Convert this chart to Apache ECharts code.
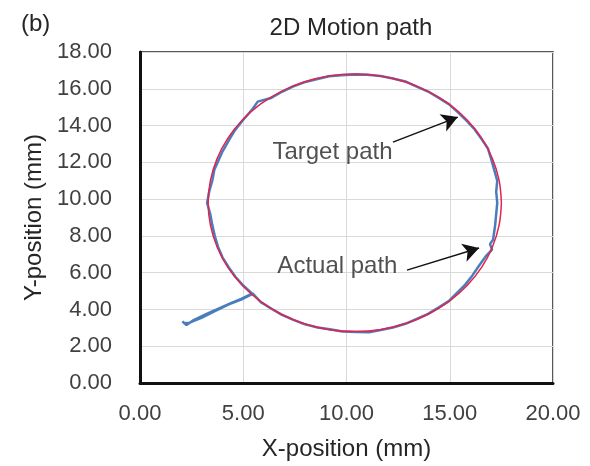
<!DOCTYPE html>
<html>
<head>
<meta charset="utf-8">
<script src="https://cdn.jsdelivr.net/npm/echarts@6/dist/echarts.min.js"></script>
<style>
  html, body { margin: 0; padding: 0; background: #fff; }
  #chart { width: 590px; height: 466px; }
</style>
</head>
<body>
<div id="chart"></div>
<script>
// Commanded circular trajectory, [x, y] in mm
const targetPath = [
  [17.50, 9.80], [17.39, 11.02], [17.07, 12.19], [16.55, 13.30], [15.84, 14.30],
  [14.97, 15.16], [13.95, 15.86], [12.83, 16.38], [11.64, 16.70], [10.40, 16.80],
  [9.16, 16.70], [7.97, 16.38], [6.85, 15.86], [5.83, 15.16], [4.96, 14.30],
  [4.25, 13.30], [3.73, 12.19], [3.41, 11.02], [3.30, 9.80], [3.41, 8.58],
  [3.73, 7.41], [4.25, 6.30], [4.96, 5.30], [5.83, 4.44], [6.85, 3.74],
  [7.97, 3.22], [9.16, 2.90], [10.40, 2.80], [11.64, 2.90], [12.83, 3.22],
  [13.95, 3.74], [14.97, 4.44], [15.84, 5.30], [16.55, 6.30], [17.07, 7.41],
  [17.39, 8.58], [17.50, 9.80]
];

// Measured tool position, [x, y] in mm
const actualPath = [
  [2.05, 3.35], [2.25, 3.15], [2.60, 3.42], [3.20, 3.74], [3.80, 4.04],
  [4.40, 4.34], [4.90, 4.58], [5.45, 4.88],
  [5.85, 4.40], [6.35, 4.05], [6.85, 3.72], [7.40, 3.45], [7.95, 3.20],
  [8.60, 3.02], [9.20, 2.92], [9.80, 2.80], [10.50, 2.78], [11.10, 2.76],
  [11.65, 2.88], [12.25, 3.02], [12.85, 3.22], [13.40, 3.48], [13.95, 3.76],
  [14.45, 4.10], [14.95, 4.45], [15.35, 4.90], [15.75, 5.35], [16.10, 5.85],
  [16.40, 6.35], [16.75, 6.90], [17.05, 7.25], [16.95, 7.55], [17.10, 7.80],
  [17.15, 8.20], [17.20, 8.60], [17.25, 9.20], [17.30, 9.80], [17.25, 10.40],
  [17.30, 11.00], [17.15, 11.60], [17.00, 12.20], [16.85, 12.75], [16.55, 13.25],
  [16.20, 13.80], [15.80, 14.28], [15.40, 14.72], [14.97, 15.15], [14.45, 15.52],
  [13.95, 15.85], [13.40, 16.12], [12.85, 16.40], [12.25, 16.56], [11.65, 16.70],
  [11.00, 16.76], [10.40, 16.78], [9.75, 16.74], [9.15, 16.68], [8.55, 16.52],
  [7.95, 16.35], [7.40, 16.12], [6.90, 15.85], [6.35, 15.50], [5.70, 15.30],
  [5.45, 14.90], [4.95, 14.25], [4.60, 13.75], [4.30, 13.20], [4.00, 12.60],
  [3.80, 12.10], [3.60, 11.60], [3.50, 11.00], [3.35, 10.40], [3.25, 9.80],
  [3.40, 9.20], [3.50, 8.60], [3.62, 8.00], [3.78, 7.40], [4.00, 6.82],
  [4.30, 6.28], [4.62, 5.78], [5.00, 5.30], [5.45, 4.85],
  [4.90, 4.54], [4.30, 4.28], [3.60, 3.90], [3.00, 3.56], [2.40, 3.28], [2.10, 3.25]
];

// Callout labels and the arrows pointing at each path
const calloutLabels = [
  { name: 'Target path', value: [9.32, 12.56] },
  { name: 'Actual path', value: [9.56, 6.36] }
];
const calloutArrows = [
  [[12.25, 13.10], [15.39, 14.46]],
  [[12.93, 6.14], [16.42, 7.34]]
];

const xTicks = { min: 0, max: 20, interval: 5 };
const yTicks = { min: 0, max: 18, interval: 2 };

const FONT = '"Liberation Sans", Arial, sans-serif';
const TEXT = '#262626';

const chart = echarts.init(document.getElementById('chart'), null, { renderer: 'canvas' });

chart.setOption({
  animation: false,
  backgroundColor: '#ffffff',
  textStyle: { fontFamily: FONT },
  title: [
    {
      text: '2D Motion path',
      left: 346, top: 11, textAlign: 'center',
      textStyle: { fontFamily: FONT, fontSize: 24, fontWeight: 'normal', color: TEXT }
    },
    {
      text: '(b)',
      left: 16, top: 7,
      textStyle: { fontFamily: FONT, fontSize: 24, fontWeight: 'normal', color: TEXT }
    }
  ],
  grid: {
    left: 140, right: 37, top: 52, bottom: 83,
    show: true, borderColor: '#222', borderWidth: 1.5, backgroundColor: '#fff'
  },
  xAxis: {
    type: 'value',
    min: xTicks.min, max: xTicks.max, interval: xTicks.interval,
    name: 'X-position (mm)', nameLocation: 'middle', nameGap: 54,
    nameTextStyle: { fontFamily: FONT, fontSize: 24, color: TEXT },
    axisLine: { show: true, onZero: false, lineStyle: { color: '#111', width: 3 } },
    axisTick: { show: false },
    axisLabel: {
      fontFamily: FONT, fontSize: 22, color: '#404040', margin: 20,
      formatter: v => v.toFixed(2)
    },
    splitLine: { show: true, lineStyle: { color: '#d9d9d9', width: 1 } }
  },
  yAxis: {
    type: 'value',
    min: yTicks.min, max: yTicks.max, interval: yTicks.interval,
    name: 'Y-position (mm)', nameLocation: 'middle', nameGap: 88,
    nameTextStyle: { fontFamily: FONT, fontSize: 24, color: TEXT },
    axisLine: { show: true, onZero: false, lineStyle: { color: '#111', width: 3 } },
    axisTick: { show: false },
    axisLabel: {
      fontFamily: FONT, fontSize: 22, color: '#404040', margin: 28,
      formatter: v => v.toFixed(2)
    },
    splitLine: { show: true, lineStyle: { color: '#d9d9d9', width: 1 } }
  },
  series: [
    {
      name: 'Actual path',
      type: 'line',
      data: actualPath,
      showSymbol: false,
      symbol: 'none',
      lineStyle: { color: '#4a7ebb', width: 2.5 },
      z: 2
    },
    {
      name: 'Target path',
      type: 'line',
      data: targetPath,
      smooth: 0.4,
      showSymbol: false,
      symbol: 'none',
      lineStyle: { color: '#e0234f', width: 1.5 },
      z: 3
    },
    {
      name: 'Callouts',
      type: 'scatter',
      data: calloutLabels,
      symbolSize: 0,
      label: {
        show: true, position: 'inside', formatter: '{b}',
        fontFamily: FONT, fontSize: 24, color: TEXT
      },
      markLine: {
        silent: true,
        symbol: ['none', 'arrow'],
        symbolSize: [14, 16],
        label: { show: false },
        lineStyle: { color: '#111', width: 1.5, type: 'solid' },
        data: calloutArrows.map(([a, b]) => [{ coord: a }, { coord: b }])
      },
      z: 4
    }
  ]
});
</script>
</body>
</html>
